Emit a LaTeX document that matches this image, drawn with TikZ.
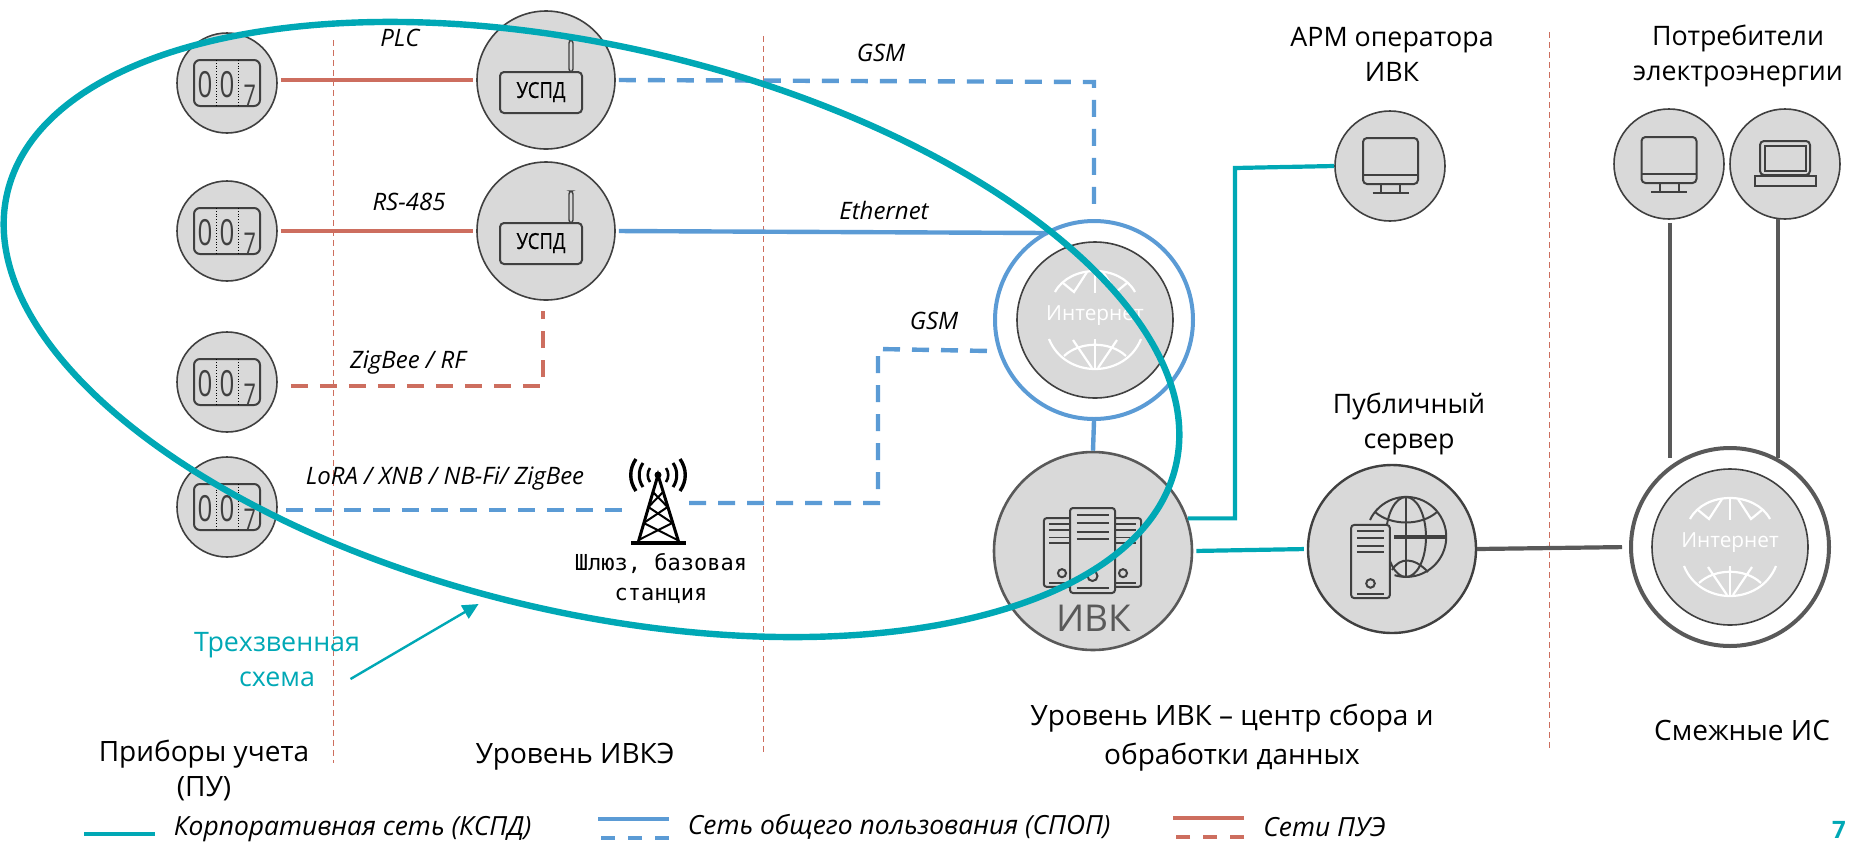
\documentclass[tikz,border=0pt]{standalone}
\usepackage{fontspec}
\setmainfont{Open Sans}
\newfontfamily\gatefont{DejaVu Sans Mono}
\newfontfamily\digitfont[FakeStretch=0.72]{Open Sans}
\newfontfamily\uspdfont[FakeStretch=0.84]{Open Sans}
\usetikzlibrary{arrows.meta}
\definecolor{kspd}{RGB}{0,168,181}
\definecolor{spop}{RGB}{91,155,213}
\definecolor{pue}{RGB}{205,110,95}
\definecolor{disc}{RGB}{217,217,217}
\definecolor{ink}{RGB}{64,64,64}
\definecolor{trunk}{RGB}{89,89,89}
\tikzset{
	disk/.style={circle,draw=ink,fill=disc,line width=0.8pt,inner sep=0pt,minimum size=#1},
	ring/.style={circle,line width=2pt,inner sep=0pt,fill=white,minimum size=#1},
	caplabel/.style={align=center,inner sep=0pt,font=\fontsize{13.4}{17.5}\selectfont},
	lowlabel/.style={align=center,inner sep=0pt,font=\fontsize{14}{17.5}\selectfont},
	wirelabel/.style={inner sep=0pt,font=\fontsize{12}{14}\selectfont\itshape},
	legendlabel/.style={inner sep=0pt,anchor=west,font=\fontsize{13.2}{15}\selectfont\itshape},
	redline/.style={draw=pue,line width=2.1pt},
	blueline/.style={draw=spop,line width=2.2pt},
	tealline/.style={draw=kspd,line width=2.1pt},
	grayline/.style={draw=trunk,line width=2.1pt},
	broken/.style={dash pattern=on 8.5pt off 6pt},
	divider/.style={draw=pue,line width=0.5pt,densely dashed},
	icon/.style={draw=ink,line width=1pt},
	meter/.pic={
		\draw[icon,rounded corners=3pt] (-33,-23) rectangle (33,23);
		\draw[black,line width=0.4pt,densely dotted] (-10.7,-23) -- (-10.7,23);
		\draw[black,line width=0.4pt,densely dotted] (11.3,-23) -- (11.3,23);
		\node[text=ink,inner sep=0pt,font=\fontsize{18}{18}\digitfont] (a) at (-22,1.3) {0};
		\node[text=ink,inner sep=0pt,font=\fontsize{18}{18}\digitfont] (b) at (0,1.3) {0};
		\node[text=ink,inner sep=0pt,font=\fontsize{15}{15}\digitfont] (c) at (22.7,12.5) {7};
	},
	uspdbox/.pic={
		\draw[icon,line width=0.7pt,fill=disc,rounded corners=1.5pt] (23,-8) rectangle (27,-40);
		\draw[icon,rounded corners=2pt] (-46,-8) rectangle (36,33);
		\node[text=black,inner sep=0pt,font=\fontsize{11}{12}\uspdfont\addfontfeature{FakeBold=0.2}] (t) at (-5,12) {УСПД};
	},
	webglobe/.pic={
		\draw[white,line width=1.1pt] (-40,-28) .. controls (-25,-56) and (25,-56) .. (40,-28);
		\draw[white,line width=1.1pt] (0,-49) -- (0,-27);
		\draw[white,line width=1.1pt] (-32,-37) -- (-21,-28) -- (-8,-48);
		\draw[white,line width=1.1pt] (32,-37) -- (21,-28) -- (8,-48);
		\draw[white,line width=1.1pt] (-46,19) .. controls (-30,59) and (30,59) .. (46,19);
		\draw[white,line width=1.1pt] (-31,36) .. controls (-15,21) and (15,21) .. (31,36);
		\draw[white,line width=1.1pt] (0,19) -- (0,49);
		\draw[white,line width=1.1pt] (-22,20) -- (-3,48);
		\draw[white,line width=1.1pt] (22,20) -- (3,48);
	},
	servercase/.pic={
		\draw[icon,fill=disc,rounded corners=1.5pt] (-22.5,-42.5) rectangle (22.5,42.5);
		\draw[icon,line width=0.9pt] (-16,-35.5) -- (16,-35.5);
		\draw[icon,line width=0.9pt] (-16,-27.5) -- (16,-27.5);
		\draw[icon,line width=0.9pt] (-16,-18.5) -- (16,-18.5);
		\draw[icon,line width=0.9pt] (-16,-11.5) -- (16,-11.5);
		\draw[icon] (0,25.5) circle (5);
		\draw[icon,line width=0.9pt] (-16,37.5) -- (16,37.5);
	},
	desktop/.pic={
		\draw[icon,rounded corners=2pt] (-27.5,-27.5) rectangle (27.5,18.5);
		\draw[icon] (-27.5,9.5) -- (27.5,9.5);
		\draw[icon] (-9.5,18.5) -- (-9.5,27.5);
		\draw[icon] (9.5,18.5) -- (9.5,27.5);
		\draw[icon] (-18,27.5) -- (18,27.5);
	},
	notebook/.pic={
		\draw[icon,rounded corners=2pt] (-25,-23) -- (25,-23) -- (25,11) -- (-25,11) -- cycle;
		\draw[icon] (-20.5,-18) rectangle (21,7);
		\draw[icon] (-30,12) rectangle (31,22);
	},
	mast/.pic={
		\draw[black,line width=1.5pt] (-20,68) -- (0,0) -- (21,68);
		\draw[black,line width=1pt] ({-.3*17},17) -- ({.3*32},32);
		\draw[black,line width=1pt] ({.3*17},17) -- ({-.3*32},32);
		\draw[black,line width=1pt] ({-.3*32},32) -- ({.3*48},48);
		\draw[black,line width=1pt] ({.3*32},32) -- ({-.3*48},48);
		\draw[black,line width=1pt] ({-.3*48},48) -- ({.3*65},65);
		\draw[black,line width=1pt] ({.3*48},48) -- ({-.3*65},65);
		\draw[black,line width=2pt] (-27,68) -- (28,68);
		\fill[black] (0,0) circle (3.5);
		\draw[black,line width=1.3pt] (8,-7) .. controls (11,-3) and (11,3) .. (8,7);
		\draw[black,line width=1.3pt] (-8,-7) .. controls (-11,-3) and (-11,3) .. (-8,7);
		\draw[black,line width=1.5pt] (15,-12) .. controls (20,-5) and (20,5) .. (15,12);
		\draw[black,line width=1.5pt] (-15,-12) .. controls (-20,-5) and (-20,5) .. (-15,12);
		\draw[black,line width=1.7pt] (22,-16) .. controls (29,-6) and (29,6) .. (22,16);
		\draw[black,line width=1.7pt] (-22,-16) .. controls (-29,-6) and (-29,6) .. (-22,16);
	}
}
\begin{document}
\begin{tikzpicture}[x=0.5pt,y=-0.5pt]
	\useasboundingbox (0,0) rectangle (1849,842);

	\draw[divider] (333,40) -- (333,763);
	\draw[divider] (763,36) -- (763,753);
	\draw[divider] (1549,32) -- (1549,751);

	\node[disk=50pt] (meterA) at (227,83) {};
	\node[disk=50pt] (meterB) at (227,231) {};
	\node[disk=50pt] (meterC) at (227,382) {};
	\node[disk=50pt] (meterD) at (227,507) {};
	\pic (mA) at (meterA) {meter};
	\pic (mB) at (meterB) {meter};
	\pic (mC) at (meterC) {meter};
	\pic (mD) at (meterD) {meter};

	\node[disk=69pt] (uspdA) at (546,80) {};
	\node[disk=69pt] (uspdB) at (546,231) {};
	\pic (uA) at (uspdA) {uspdbox};
	\pic (uB) at (uspdB) {uspdbox};

	\node[ring=99pt,draw=spop] (inetA) at (1094,320) {};
	\node[disk=78pt] (inetB) at (1095,320) {};
	\pic (gB) at (inetB) {webglobe};
	\node[text=white,inner sep=0pt,font=\fontsize{10.4}{12}\selectfont] (inetBtext) at (1095,316) {Интернет};

	\node[ring=99pt,draw=trunk] (inetC) at (1730,547) {};
	\node[disk=78pt] (inetD) at (1730,547) {};
	\pic (gD) at (inetD) {webglobe};
	\node[text=white,inner sep=0pt,font=\fontsize{10.4}{12}\selectfont] (inetDtext) at (1730,543) {Интернет};

	\node[disk=55pt] (apm) at (1390,166) {};
	\node[disk=55pt] (consA) at (1669,164) {};
	\node[disk=55pt] (consB) at (1785,164) {};
	\pic (scrA) at (1390.5,165.5) {desktop};
	\pic (scrB) at (1669,164.5) {desktop};
	\pic (lap) at (1785,164) {notebook};

	\coordinate (gsmCorner) at (1094,82);
	\coordinate (ethEnd) at (1048,233);
	\coordinate (zigCorner) at (543,386);
	\coordinate (towerL) at (632,510);
	\coordinate (towerR) at (689,503);
	\coordinate (gateLow) at (878,503);
	\coordinate (gateUp) at (878,349);
	\coordinate (gateEnd) at (990,351);
	\coordinate (tealCorner) at (1235,168);
	\coordinate (inetCL) at (1670,458);
	\coordinate (inetCR) at (1778,458);

	\draw[redline,shorten <=1.5pt,shorten >=1.5pt] (meterA.east |- uspdA.west) -- (uspdA.west);
	\draw[redline,shorten <=1.5pt,shorten >=1.5pt] (meterB.east) -- (uspdB.west);
	\draw[redline,broken,shorten <=6.5pt,shorten >=5pt] (meterC.east |- zigCorner) -- (zigCorner) -- (uspdB.south -| zigCorner);
	\draw[blueline,broken,shorten <=4pt] (meterD.east |- towerL) -- (towerL);
	\draw[blueline,broken,shorten <=1.5pt,shorten >=3.5pt] (uspdA.east) -- (gsmCorner) -- (inetA.north);
	\draw[blueline,shorten <=1.5pt] (uspdB.east) -- (ethEnd);
	\draw[blueline,broken] (towerR) -- (gateLow) -- (gateUp) -- (gateEnd);

	\node[disk=99pt,line width=1.3pt,draw=trunk] (ivk) at (1093,551) {};
	\draw[blueline] (inetA.south) -- (ivk.north);
	\pic[scale=0.81] (srvL) at (1062,552.5) {servercase};
	\pic[scale=0.81] (srvR) at (1123,552.5) {servercase};
	\pic (srvC) at (1092.5,550.5) {servercase};
	\node[text=trunk,inner sep=0pt,font=\fontsize{18.5}{20}\selectfont] (ivktext) at (1094,618) {ИВК};

	\node[disk=84pt,line width=1.2pt] (pub) at (1392,549) {};
	\draw[icon] (1370,520) arc[start angle=205,end angle=467,radius=40];
	\draw[icon] (1406,537) ellipse [x radius=20,y radius=40];
	\draw[icon] (1406,497) -- (1406,577);
	\draw[icon,line width=1.6pt] (1394,537) -- (1446,537);
	\draw[icon] (1375,512) .. controls (1391,526) and (1421,526) .. (1437,512);
	\draw[icon] (1392,570) .. controls (1400,557) and (1414,557) .. (1428,572);
	\pic[scale=0.86] (srvP) at (1370.5,561.5) {servercase};

	\draw[tealline] (ivk.19) -| (tealCorner) -- (apm.west);
	\draw[tealline,shorten <=1.5pt,shorten >=1.5pt] (ivk.east) -- (pub.west);
	\draw[grayline,shorten >=3.5pt] (pub.east) -- (inetC.west);
	\draw[grayline,shorten <=1.5pt] (consA.south -| inetCL) -- (inetCL);
	\draw[grayline,shorten <=-0.5pt] (consB.south -| inetCR) -- (inetCR);

	\pic (tower) at (658,475) {mast};
	\node[inner sep=0pt,align=center,font=\fontsize{11}{15}\gatefont] (gatetext) at (661,578) {Шлюз, базовая\\станция};

	\node[wirelabel] (plc) at (400,38) {PLC};
	\node[wirelabel] (rs) at (409,202) {RS-485};
	\node[wirelabel] (zig) at (408,363) {ZigBee / RF};
	\node[wirelabel] (lora) at (445,479) {LoRA / XNB / NB-Fi/ ZigBee};
	\node[wirelabel] (gsmA) at (881,53) {GSM};
	\node[wirelabel] (eth) at (884,210) {Ethernet};
	\node[wirelabel] (gsmB) at (934,321) {GSM};

	\node[caplabel] (capApm) at (1392,54) {АРМ оператора\\ИВК};
	\node[caplabel] (capCons) at (1738,56) {Потребители\\электроэнергии};
	\node[caplabel] (capPub) at (1409,424) {Публичный\\сервер};
	\node[caplabel,text=kspd] (capThree) at (277,660) {Трехзвенная\\схема};
	\node[lowlabel] (capMeter) at (204,770) {Приборы учета\\(ПУ)};
	\node[lowlabel] (capIvke) at (575,757) {Уровень ИВКЭ};
	\node[lowlabel] (capIvk) at (1232,738) {Уровень ИВК – центр сбора и\\[2pt]обработки данных};
	\node[lowlabel] (capSide) at (1742,730) {Смежные ИС};

	\node[legendlabel] (legA) at (173.5,829) {Корпоративная сеть (КСПД)};
	\node[legendlabel] (legB) at (687.5,827) {Сеть общего пользования (СПОП)};
	\node[legendlabel] (legC) at (1263,827) {Сети ПУЭ};
	\draw[tealline] ([xshift=-9.5pt,yshift=-2.5pt]legA.west) -- ++(-71,0);
	\draw[blueline] ([xshift=-9.5pt,yshift=4pt]legB.west) -- ++(-71,0);
	\draw[blueline,dash pattern=on 7pt off 6.5pt] ([xshift=-9.5pt,yshift=-5.5pt]legB.west) -- ++(-71,0);
	\draw[redline] ([xshift=-9.5pt,yshift=4.5pt]legC.west) -- ++(-71,0);
	\draw[redline,dash pattern=on 7pt off 6.5pt] ([xshift=-9.5pt,yshift=-5pt]legC.west) -- ++(-71,0);

	\node[text=kspd,inner sep=0pt,anchor=base,font=\fontsize{12}{14}\selectfont\bfseries] (pageno) at (1839,838) {7};

	\draw[draw=kspd,line width=3.2pt,rotate around={-13.15:(591.5,329.5)}] (591.5,329.5) ellipse [x radius=600,y radius=283];

	\coordinate (arrowTail) at (350.5,679);
	\coordinate (arrowHead) at (478.6,604);
	\draw[draw=kspd,line width=1.2pt,-{Triangle[length=8pt,width=7.5pt]}] (arrowTail) -- (arrowHead);
\end{tikzpicture}
\end{document}
